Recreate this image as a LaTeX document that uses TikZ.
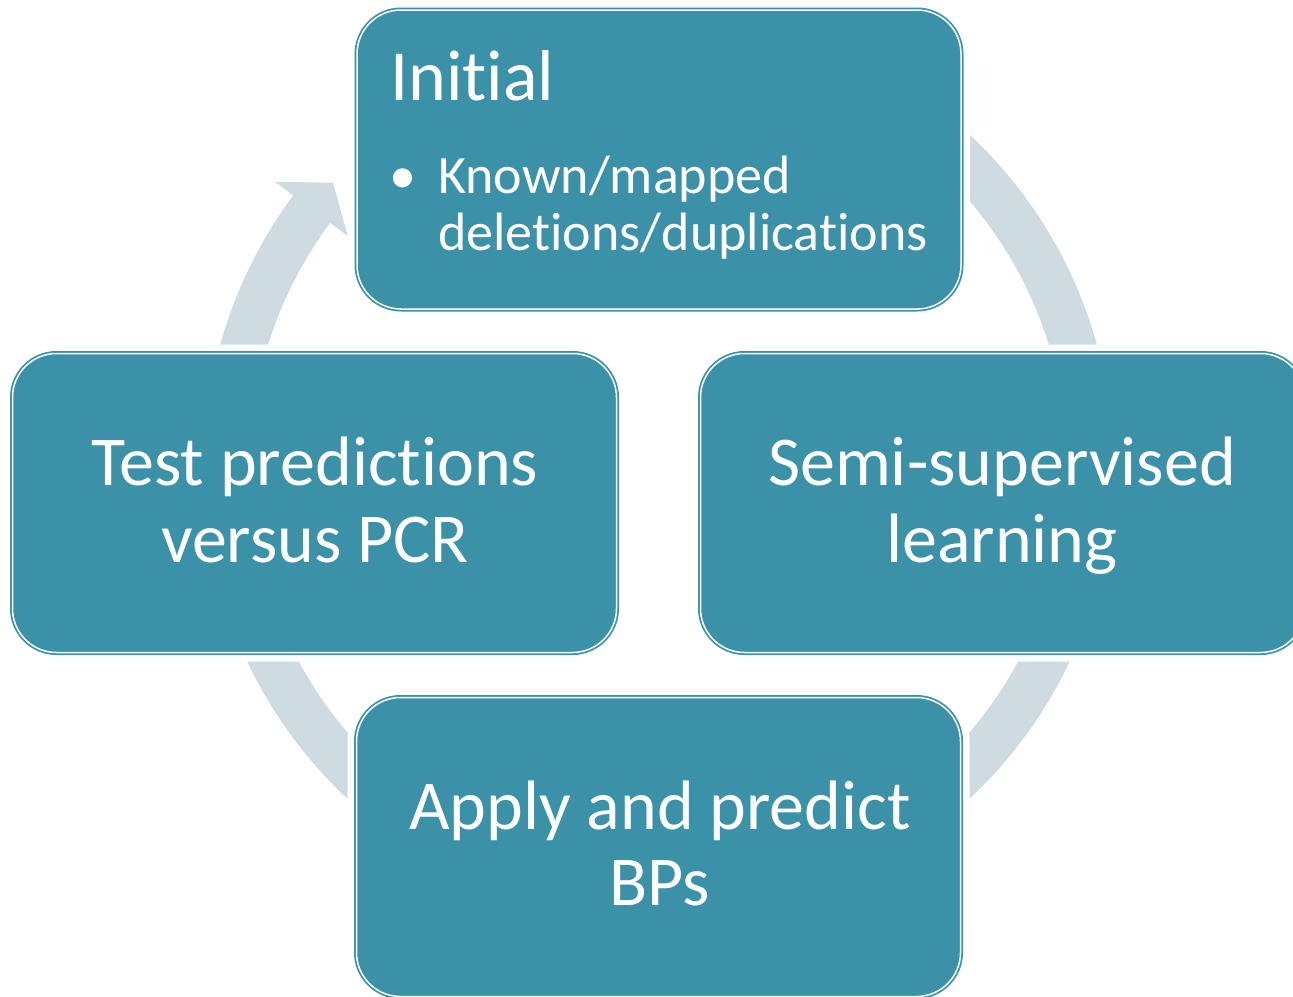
\documentclass[tikz,border=0pt]{standalone}
\usepackage{fontspec}
\setmainfont{Carlito}[Ligatures=NoCommon]
\usetikzlibrary{calc}
\definecolor{boxteal}{RGB}{58,145,168}
\definecolor{ringgray}{RGB}{206,220,226}
\begin{document}
\begin{tikzpicture}[x=1pt,y=-1pt,
  stagebox/.style={rectangle, rounded corners=44pt, minimum width=604pt, minimum height=299pt,
    inner sep=0pt, fill=boxteal, draw=boxteal, line width=1.75pt,
    double=white, double distance=1.5pt,
    preaction={draw=white, line width=18pt}},
  bigtext/.style={text=white, inner sep=0pt, anchor=base, font=\fontsize{70}{77}\selectfont},
  titletext/.style={text=white, inner sep=0pt, anchor=base west, font=\fontsize{72}{80}\selectfont},
  bullettext/.style={text=white, inner sep=0pt, anchor=base west, font=\fontsize{54}{57}\selectfont}]
\useasboundingbox (0,0) rectangle (1293,996);

% circular arrow behind the four stages
\coordinate (C) at (658.5,466.7);
\fill[ringgray] ($(C)+(-100:455)$) arc[start angle=-100, end angle=216.6, radius=455]
  -- ($(C)+(216.6:478)$) -- ($(C)+(221.1:432)$) -- ($(C)+(216.6:387)$)
  -- ($(C)+(216.6:409)$) arc[start angle=216.6, end angle=-100, radius=409] -- cycle;

% stages
\node[stagebox] (initial) at (659,159.5) {};
\node[stagebox] (semi) at (1002.5,503) {};
\node[stagebox] (apply) at (658.5,847) {};
\node[stagebox] (test) at (314.5,503) {};

% texts
\node[titletext] (initT) at (390,100) {Initial};
\node[bullettext] (initB) at (389,193) {\textbullet};
\node[bullettext] (initL1) at (438,193) {Known/mapped};
\node[bullettext] (initL2) at (438,250) {deletions/duplications};

\node[bigtext] (semiL1) at (1002,485) {Semi-supervised};
\node[bigtext] (semiL2) at (1002,562) {learning};

\node[bigtext] (applyL1) at (660,829) {Apply and predict};
\node[bigtext] (applyL2) at (660,905) {BPs};

\node[bigtext] (testL1) at (315,485) {Test predictions};
\node[bigtext] (testL2) at (315,562) {versus PCR};
\end{tikzpicture}
\end{document}
